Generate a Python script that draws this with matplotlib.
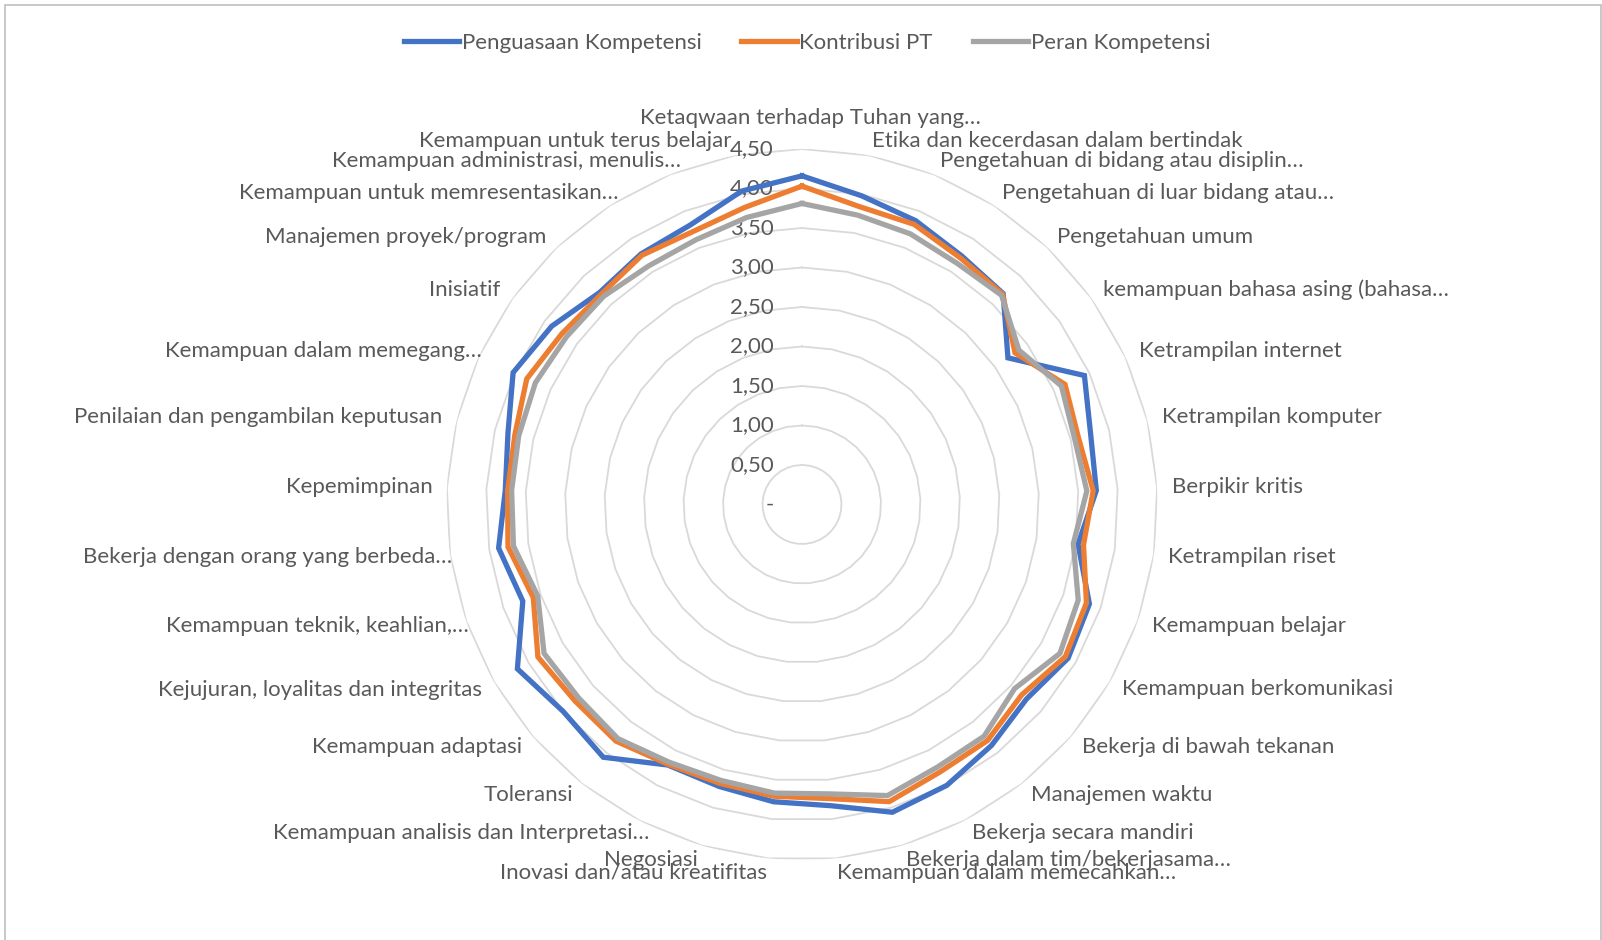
import numpy as np
import matplotlib.pyplot as plt
from matplotlib.patches import Rectangle
from matplotlib.transforms import offset_copy

# categories (clockwise from top)
categories = [
    "Ketaqwaan terhadap Tuhan yang…",
    "Etika dan kecerdasan dalam bertindak",
    "Pengetahuan di bidang atau disiplin…",
    "Pengetahuan di luar bidang atau…",
    "Pengetahuan umum",
    "kemampuan bahasa asing (bahasa…",
    "Ketrampilan internet",
    "Ketrampilan komputer",
    "Berpikir kritis",
    "Ketrampilan riset",
    "Kemampuan belajar",
    "Kemampuan berkomunikasi",
    "Bekerja di bawah tekanan",
    "Manajemen waktu",
    "Bekerja secara mandiri",
    "Bekerja dalam tim/bekerjasama…",
    "Kemampuan dalam memecahkan…",
    "Inovasi dan/atau kreatifitas",
    "Negosiasi",
    "Kemampuan analisis dan Interpretasi…",
    "Toleransi",
    "Kemampuan adaptasi",
    "Kejujuran, loyalitas dan integritas",
    "Kemampuan teknik, keahlian,…",
    "Bekerja dengan orang yang berbeda…",
    "Kepemimpinan",
    "Penilaian dan pengambilan keputusan",
    "Kemampuan dalam memegang…",
    "Inisiatif",
    "Manajemen proyek/program",
    "Kemampuan untuk memresentasikan…",
    "Kemampuan administrasi, menulis…",
    "Kemampuan untuk terus belajar",
]

penguasaan = [4.16, 3.98, 3.87, 3.74, 3.69, 3.20, 3.93, 3.76, 3.73, 3.53, 3.85,
              3.89, 3.76, 3.88, 4.00, 4.06, 3.83, 3.78, 3.72, 3.71, 4.07, 4.00,
              4.16, 3.74, 3.88, 3.76, 3.83, 4.02, 3.89, 3.71, 3.77, 3.81, 4.04]
kontribusi = [4.03, 3.84, 3.82, 3.71, 3.68, 3.31, 3.66, 3.60, 3.69, 3.60, 3.81,
              3.85, 3.68, 3.80, 3.81, 3.92, 3.74, 3.71, 3.68, 3.70, 3.81, 3.80,
              3.86, 3.60, 3.76, 3.73, 3.74, 3.83, 3.73, 3.68, 3.75, 3.72, 3.83]
peran = [3.81, 3.73, 3.69, 3.63, 3.66, 3.37, 3.61, 3.55, 3.61, 3.47, 3.70,
         3.77, 3.56, 3.73, 3.74, 3.84, 3.68, 3.67, 3.64, 3.67, 3.77, 3.74,
         3.77, 3.54, 3.69, 3.68, 3.69, 3.71, 3.66, 3.64, 3.59, 3.61, 3.70]

series_names = ["Penguasaan Kompetensi", "Kontribusi PT", "Peran Kompetensi"]
colors = ["#4472C4", "#ED7D31", "#A5A5A5"]

ticks = [0, 0.5, 1.0, 1.5, 2.0, 2.5, 3.0, 3.5, 4.0, 4.5]
tick_labels = ["-"] + [f"{t:.2f}".replace(".", ",") for t in ticks[1:]]

plt.rcParams['font.family'] = ['Lato', 'DejaVu Sans']
text_color = "#595959"
fs = 16

fig = plt.figure(figsize=(16.02, 9.40), dpi=100)
ax = fig.add_axes([446.5 / 1602, 80 / 940, 711 / 1602, 711 / 940], projection='polar')
ax.set_theta_offset(np.pi / 2)
ax.set_theta_direction(-1)
ax.set_ylim(0, 4.5)
ax.set_xticks([])
ax.set_yticks([])
ax.grid(False)
ax.spines['polar'].set_visible(False)
ax.patch.set_alpha(0)

n = len(categories)
theta = np.arange(n) * 2 * np.pi / n
theta_c = np.append(theta, theta[0])

# polygon gridlines
for t in ticks[1:]:
    ax.plot(theta_c, [t] * (n + 1), color="#D9D9D9", lw=1.3, zorder=1)

# value axis labels
lab_tr = offset_copy(ax.transData, fig=fig, x=-0.28, y=0, units='inches')
for t, lab in zip(ticks, tick_labels):
    ax.text(0, t, lab, transform=lab_tr, ha='right', va='center',
            fontsize=fs, color=text_color)

# series
for vals, name, c in zip([penguasaan, kontribusi, peran], series_names, colors):
    ax.plot(theta_c, np.append(vals, vals[0]), color=c, lw=3.8, label=name,
            zorder=3, solid_joinstyle='miter')

# category labels; truncated ones keep some trailing room like Excel does
r_lab = 4.5 * 370 / 355.5
for th, lab in zip(theta, categories):
    deg = np.degrees(th)
    pad = 0.165 if lab.endswith("…") else 0.0
    if deg < 1:
        tr = offset_copy(ax.transData, fig=fig, x=pad / 2, y=0, units='inches')
        ax.text(th, 4.5 * 387 / 355.5, lab, transform=tr, ha='center', va='center',
                fontsize=fs, color=text_color)
    elif deg < 180:
        ax.text(th, r_lab, lab, ha='left', va='center', fontsize=fs, color=text_color)
    else:
        tr = offset_copy(ax.transData, fig=fig, x=pad, y=0, units='inches')
        ax.text(th, r_lab, lab, transform=tr, ha='right', va='center',
                fontsize=fs, color=text_color)

fig.legend(loc='center', bbox_to_anchor=(807 / 1602, 1 - 43 / 940), ncol=3,
           frameon=False, fontsize=fs, handlelength=2.5, handletextpad=0.1,
           columnspacing=1.8, labelcolor=text_color)

# chart area border (bottom edge runs off the picture)
fig.patches.append(Rectangle((5 / 1602, -0.02), 1595.5 / 1602, 1.02 - 5 / 940,
                             transform=fig.transFigure, fill=False,
                             edgecolor="#BFBFBF", lw=1.2))

fig.savefig("out.png", dpi=100)
